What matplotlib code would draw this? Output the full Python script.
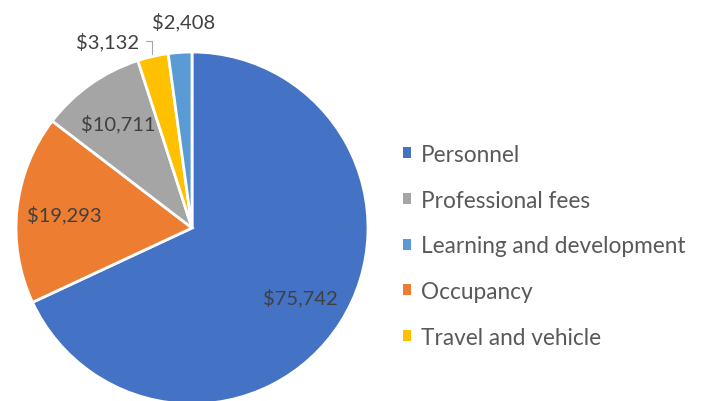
import matplotlib
matplotlib.use('Agg')
import matplotlib.pyplot as plt
from matplotlib.patches import Patch
import numpy as np

# Operating expenses by category (in pie order, clockwise from 12 o'clock)
categories = ['Personnel', 'Occupancy', 'Professional fees', 'Travel and vehicle',
              'Learning and development']
values = [75742, 19293, 10711, 3132, 2408]
colors = ['#4472C4', '#ED7D31', '#A5A5A5', '#FFC000', '#5B9BD5']
legend_order = ['Personnel', 'Professional fees', 'Learning and development',
                'Occupancy', 'Travel and vehicle']

plt.rcParams['font.family'] = ['Lato', 'DejaVu Sans']

fig = plt.figure(figsize=(7.01, 4.02), dpi=100)
W, H = 701, 402
cx, cy, r = 192, 229, 176
ax = fig.add_axes([(cx - r) / W, (H - cy - r) / H, 2 * r / W, 2 * r / H])

wedges, _ = ax.pie(values, colors=colors, startangle=90, counterclock=False,
                   radius=1, wedgeprops=dict(edgecolor='white', linewidth=2))
ax.set_xlim(-1, 1)
ax.set_ylim(-1, 1)
ax.set_aspect('equal')
ax.axis('off')

label_color = '#404040'
for w, v, name in zip(wedges, values, categories):
    mid = np.deg2rad((w.theta1 + w.theta2) / 2)
    txt = f'${v:,}'
    if v > 5000:
        ax.text(0.73 * np.cos(mid), 0.73 * np.sin(mid), txt, ha='center', va='center',
                fontsize=14.5, color=label_color)
    elif name == 'Travel and vehicle':
        ax.annotate(txt, xy=(-0.23, 0.99), xytext=(-0.30, 1.062),
                    ha='right', va='center', fontsize=14.5, color=label_color,
                    annotation_clip=False,
                    arrowprops=dict(arrowstyle='-', color='#A5A5A5', lw=0.8,
                                    shrinkA=3, shrinkB=0,
                                    connectionstyle='angle,angleA=0,angleB=90,rad=0'))
    else:
        ax.text(-0.045, 1.176, txt, ha='center', va='center', fontsize=14.5,
                color=label_color, clip_on=False)

color_of = dict(zip(categories, colors))
handles = [Patch(facecolor=color_of[c], edgecolor='none') for c in legend_order]
fig.legend(handles, legend_order, loc='upper left', bbox_to_anchor=(403 / W, 1 - 145 / H),
           frameon=False, fontsize=16.3, labelcolor='#595959', handlelength=0.36,
           handleheight=0.36, handletextpad=0.45, labelspacing=1.09, borderpad=0,
           borderaxespad=0)

fig.savefig('out.png', dpi=100)
